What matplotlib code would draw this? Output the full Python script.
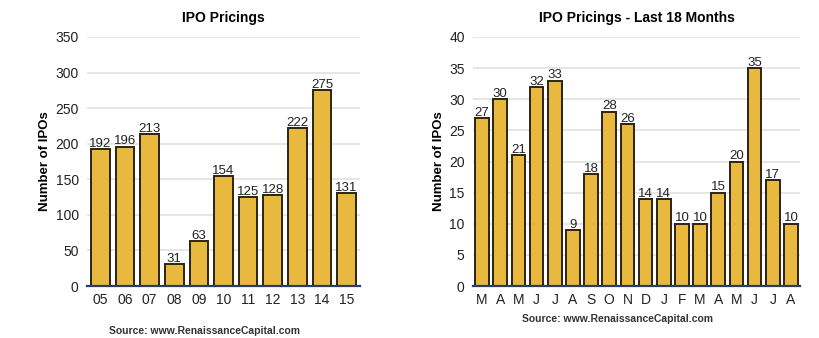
import matplotlib
matplotlib.use("Agg")
import matplotlib.pyplot as plt

plt.rcParams['font.family'] = ['Liberation Sans', 'DejaVu Sans']

years = ["05", "06", "07", "08", "09", "10", "11", "12", "13", "14", "15"]
year_counts = [192, 196, 213, 31, 63, 154, 125, 128, 222, 275, 131]

months = ["M", "A", "M", "J", "J", "A", "S", "O", "N", "D", "J", "F", "M", "A", "M", "J", "J", "A"]
month_counts = [27, 30, 21, 32, 33, 9, 18, 28, 26, 14, 14, 10, 10, 15, 20, 35, 17, 10]

BAR = "#E9B93F"
EDGE = "#2a2414"
W, H = 820, 338
fig = plt.figure(figsize=(W / 100, H / 100), dpi=100)
fig.patch.set_facecolor("white")

def make_ax(l, r, b, t):
    return fig.add_axes([l / W, 1 - b / H, (r - l) / W, (b - t) / H])

def style(ax, cats, vals, ymax, step, title):
    x = range(len(cats))
    ax.bar(x, vals, width=0.75, color=BAR, edgecolor=EDGE, linewidth=1.4, zorder=3)
    for xi, v in zip(x, vals):
        ax.text(xi, v - ymax * 0.003, str(v), ha="center", va="bottom", fontsize=9.5, color="#222222", zorder=4)
    ax.set_ylim(0, ymax)
    ax.set_xlim(-0.55, len(cats) - 0.45)
    ax.set_yticks(range(0, ymax + 1, step))
    ax.set_xticks(list(x))
    ax.set_xticklabels(cats)
    ax.grid(axis="y", color="#e2e2e2", linewidth=1.2, zorder=0)
    for s in ["left", "right", "top"]:
        ax.spines[s].set_visible(False)
    ax.spines["bottom"].set_color("#2b3a67")
    ax.spines["bottom"].set_linewidth(1.6)
    ax.spines["bottom"].set_zorder(5)
    ax.tick_params(axis="both", length=0, labelsize=10, colors="#222222")
    ax.tick_params(axis="x", pad=5)
    ax.tick_params(axis="y", pad=6)
    ax.set_ylabel("Number of IPOs", fontsize=9.5, fontweight="bold", labelpad=3)
    ax.set_title(title, fontsize=10, fontweight="bold", pad=11)

ax1 = make_ax(87, 360, 286, 37)
style(ax1, years, year_counts, 350, 50, "IPO Pricings")
fig.text(205 / W, 1 - 331 / H, "Source: www.RenaissanceCapital.com", ha="center", va="center",
         fontsize=7.5, fontweight="bold", color="#333333")

ax2 = make_ax(473, 800, 286, 37)
style(ax2, months, month_counts, 40, 5, "IPO Pricings - Last 18 Months")
ax2.set_xlim(-0.5, len(months) - 0.5)
fig.text(618 / W, 1 - 319 / H, "Source: www.RenaissanceCapital.com", ha="center", va="center",
         fontsize=7.5, fontweight="bold", color="#333333")

fig.savefig("out.png", dpi=100, facecolor="white")
